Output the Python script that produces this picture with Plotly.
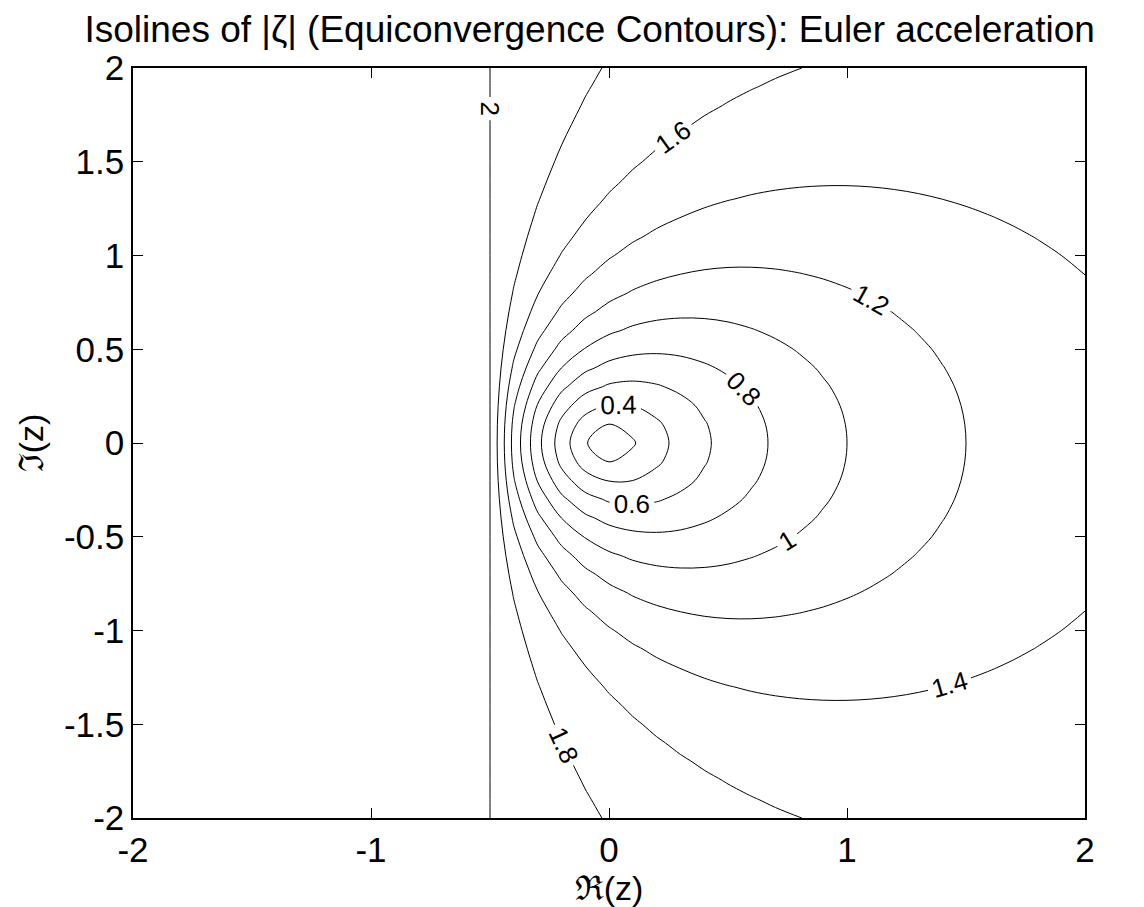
import numpy as np
import plotly.graph_objects as go

# Grid of the complex plane (real and imaginary parts)
re_vals = np.linspace(-2, 2, 41)
im_vals = np.linspace(-2, 2, 41)

# Contour levels of |zeta|
level_start = 0.2
level_end = 2.0
level_step = 0.2

x_ticks = [-2, -1, 0, 1, 2]
y_ticks = [-2, -1.5, -1, -0.5, 0, 0.5, 1, 1.5, 2]
y_ticklabels = ["-2", "-1.5", "-1", "-0.5", "0", "0.5", "1", "1.5", "2"]

# Euler acceleration map: zeta = 2 z / (1 + z)
X, Y = np.meshgrid(re_vals, im_vals)
Z = X + 1j * Y
den = np.abs(1 + Z)
with np.errstate(divide="ignore", invalid="ignore"):
    mag = np.where(den > 1e-12, 2 * np.abs(Z) / np.where(den > 1e-12, den, 1), 1e3)

font_family = "Liberation Sans, Arial, Helvetica, sans-serif"

fig = go.Figure()
fig.add_trace(go.Contour(
    x=re_vals, y=im_vals, z=mag,
    autocontour=False,
    contours=dict(start=level_start, end=level_end, size=level_step,
                  coloring="lines", showlabels=True,
                  labelfont=dict(size=26, color="black", family=font_family)),
    colorscale=[[0, "black"], [1, "black"]],
    showscale=False,
    line=dict(width=1),
    hoverinfo="skip",
))

axis_common = dict(
    showgrid=False, zeroline=False, showline=True, mirror="allticks",
    linecolor="black", linewidth=1.5, ticks="inside", ticklen=10,
    tickwidth=1, tickcolor="black",
    tickfont=dict(size=35, color="black", family=font_family),
)

fig.update_layout(
    width=1136, height=899,
    margin=dict(l=125, r=59, t=60, b=89),
    paper_bgcolor="white", plot_bgcolor="white",
    title=dict(text="Isolines of |ζ| (Equiconvergence Contours): Euler acceleration",
               x=0.512, xref="container", xanchor="center",
               y=0.9768, yref="container", yanchor="middle",
               font=dict(size=37, color="black", family=font_family)),
    xaxis=dict(range=[-2, 2], tickvals=x_ticks, ticktext=[str(v) for v in x_ticks],
               title=dict(text="ℜ(z)", font=dict(size=34, color="black", family=font_family), standoff=0),
               **axis_common),
    yaxis=dict(range=[-2, 2], tickvals=y_ticks, ticktext=y_ticklabels,
               title=dict(text="ℑ(z)", font=dict(size=34, color="black", family=font_family), standoff=10),
               **axis_common),
    showlegend=False,
)

fig.write_html("out.html")
